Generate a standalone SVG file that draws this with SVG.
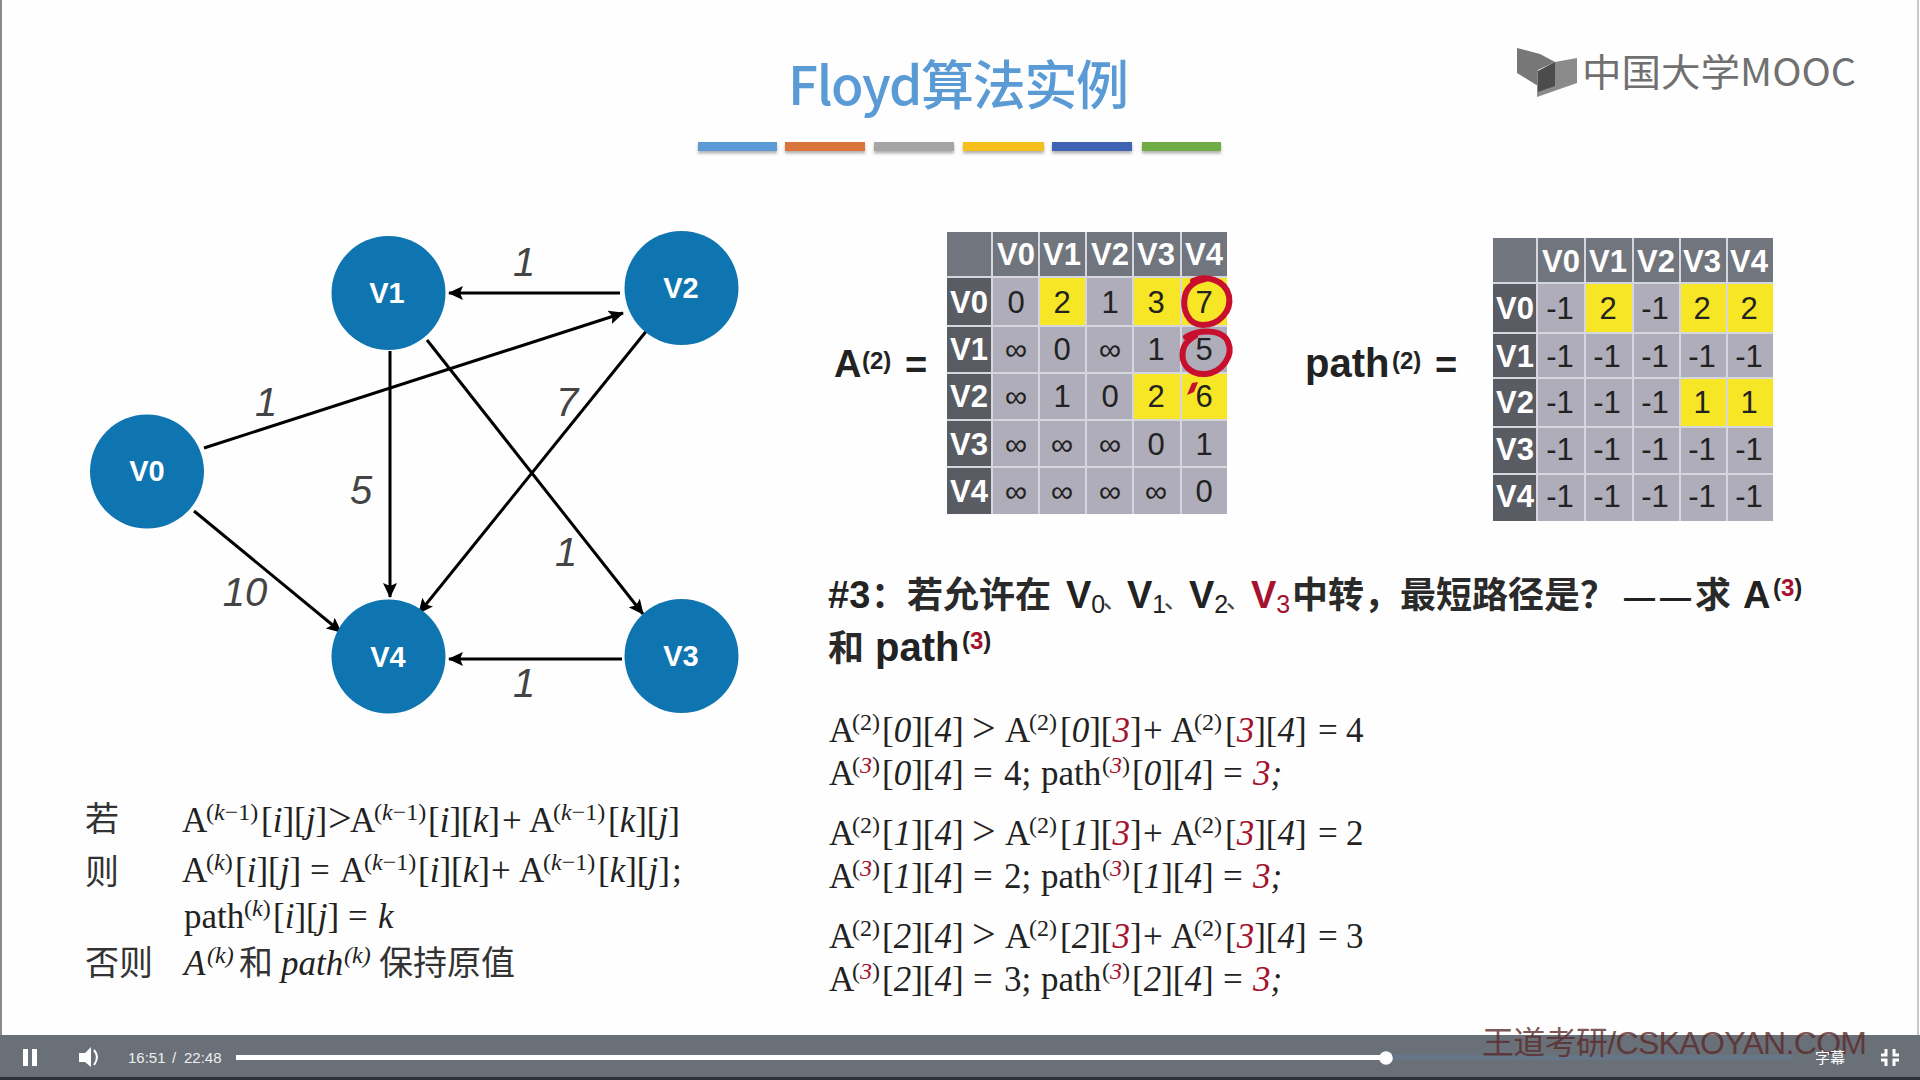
<svg xmlns="http://www.w3.org/2000/svg" width="1920" height="1080" viewBox="0 0 1920 1080">
<style>
.sans{font-family:"Liberation Sans","Noto Sans CJK SC",sans-serif}
.cjk{font-family:"Noto Sans CJK SC",sans-serif}
.nl{font:bold 29px "Liberation Sans",sans-serif;fill:#fff;text-anchor:middle}
.el{font:italic 40px "Liberation Sans",sans-serif;fill:#444;text-anchor:middle}
.edge{stroke:#000;stroke-width:3;fill:none;marker-end:url(#arr)}
.hd{font:bold 31px "Liberation Sans",sans-serif;fill:#fff;text-anchor:middle}
.c{font:31px "Liberation Sans",sans-serif;fill:#222;text-anchor:middle}
.f{font-family:"Liberation Serif",serif;font-size:35px;fill:#222}
.f2{font-family:"Liberation Serif",serif;font-size:35px;fill:#222}
.z{font-family:"Noto Sans CJK SC",sans-serif;font-size:34px;fill:#333;font-weight:400}
.i{font-style:italic}
.r{fill:#a5122e}
.s{font-size:24px}
.gt{font-size:42px}
.b{font:bold 38px "Liberation Sans","Noto Sans CJK SC",sans-serif;fill:#222}
.bz{font-family:"Noto Sans CJK SC",sans-serif;font-size:36px;font-weight:700;fill:#2a2a2a}
.dn{font-family:"Noto Sans CJK SC",sans-serif;font-size:24px;font-weight:400;fill:#444}
.sb{font-size:25px;font-weight:400}
.g{fill:#aeadb9}.y{fill:#f6e626}.h{fill:#71757d}.l{fill:#5a5c63}
.grid{stroke:#d6d6de;stroke-width:2;fill:none}
.red{stroke:#c8102e;stroke-width:6;fill:none;stroke-linecap:round}
</style>
<defs>
<marker id="arr" markerUnits="userSpaceOnUse" markerWidth="16" markerHeight="14" refX="14" refY="7" orient="auto"><path d="M0 0L15 7L0 14L3 7Z" fill="#000"/></marker>
<filter id="sh" x="-5%" y="-40%" width="110%" height="200%"><feDropShadow dx="0" dy="2.5" stdDeviation="1.5" flood-color="#555" flood-opacity="0.45"/></filter>
</defs>
<rect width="1920" height="1080" fill="#fefefe"/>
<rect x="0" y="0" width="2" height="1035" fill="#8a8a8a"/>
<rect x="1917" y="0" width="2" height="1035" fill="#c8c8c8"/>

<g id="title">
<text x="788" y="105" class="cjk" font-size="53" font-weight="500" fill="#5b9bd5" textLength="341" lengthAdjust="spacing">Floyd算法实例</text>
<g filter="url(#sh)">
<rect x="698" y="142" width="79" height="9" fill="#5b9bd5"/>
<rect x="785" y="142" width="80" height="9" fill="#d9743a"/>
<rect x="874" y="142" width="80" height="9" fill="#a5a5a5"/>
<rect x="963" y="142" width="81" height="9" fill="#f5bf1a"/>
<rect x="1052" y="142" width="80" height="9" fill="#3f62b3"/>
<rect x="1142" y="142" width="79" height="9" fill="#70ad47"/>
</g>
</g>
<g id="logo">
<path d="M1517 48L1540 54L1555 62L1538 70L1538 86L1517 73Z" fill="#777"/>
<path d="M1555 62L1577 58L1577 83L1537 97L1537 72Z" fill="#8a8a8a"/>
<path d="M1555 62L1555 86L1538 92L1538 71Z" fill="#4c4c4c"/>
<text x="1582" y="86" font-family="'Noto Sans CJK SC',sans-serif" font-size="37.5" font-weight="400" fill="#707070" textLength="274" lengthAdjust="spacingAndGlyphs">中国大学MOOC</text>
</g>

<g id="connectors">
<line class="edge" x1="620" y1="293" x2="449" y2="293"/>
<line class="edge" x1="204" y1="448" x2="623" y2="313"/>
<line class="edge" x1="194" y1="511" x2="341" y2="632"/>
<line class="edge" x1="390" y1="351" x2="390" y2="597"/>
<line class="edge" x1="427" y1="340" x2="643" y2="614"/>
<line class="edge" x1="648" y1="329" x2="419" y2="613"/>
<line class="edge" x1="622" y1="659" x2="449" y2="659"/>
</g>
<g id="edge-labels">
<text class="el" x="524" y="276">1</text>
<text class="el" x="266" y="416">1</text>
<text class="el" x="361" y="504">5</text>
<text class="el" x="245" y="606">10</text>
<text class="el" x="567" y="416">7</text>
<text class="el" x="566" y="566">1</text>
<text class="el" x="524" y="697">1</text>
</g>
<g id="V0"><circle cx="147" cy="471.5" r="57" fill="#0f75b1"/><text class="nl" x="147" y="481">V0</text></g>
<g id="V1"><circle cx="388.500" cy="293" r="57" fill="#0f75b1"/><text class="nl" x="387" y="303">V1</text></g>
<g id="V2"><circle cx="681.500" cy="288" r="57" fill="#0f75b1"/><text class="nl" x="681" y="298">V2</text></g>
<g id="V3"><circle cx="681.500" cy="656" r="57" fill="#0f75b1"/><text class="nl" x="681" y="666">V3</text></g>
<g id="V4"><circle cx="388.500" cy="656.500" r="57" fill="#0f75b1"/><text class="nl" x="388" y="667">V4</text></g>

<g id="label-A">
<text x="834" y="377" class="sans" font-size="38" font-weight="bold" fill="#222">A</text>
<text x="862" y="369" class="sans" font-size="24" font-weight="bold" fill="#222">(2)</text>
<text x="905" y="378" class="sans" font-size="38" font-weight="bold" fill="#222">=</text>
</g>
<g id="table-A">
<rect class="h" x="947" y="232" width="280" height="45"/>
<rect class="l" x="947" y="277" width="45" height="237"/>
<rect class="g" x="992" y="277" width="235" height="237"/>
<rect class="y" x="1039" y="277" width="47" height="49"/>
<rect class="y" x="1133" y="277" width="94" height="49"/>
<rect class="y" x="1133" y="373" width="94" height="47"/>
<path class="grid" d="M992 232V514M1039 232V514M1086 232V514M1133 232V514M1181 232V514M947 277H1227M947 326H1227M947 373H1227M947 420H1227M947 467H1227"/>
<text class="hd" x="1016" y="265">V0</text><text class="hd" x="1062" y="265">V1</text><text class="hd" x="1110" y="265">V2</text><text class="hd" x="1156" y="265">V3</text><text class="hd" x="1204" y="265">V4</text>
<text class="hd" x="969" y="313">V0</text><text class="hd" x="969" y="360">V1</text><text class="hd" x="969" y="407">V2</text><text class="hd" x="969" y="455">V3</text><text class="hd" x="969" y="502">V4</text>
<text class="c" x="1016" y="313">0</text><text class="c" x="1062" y="313">2</text><text class="c" x="1110" y="313">1</text><text class="c" x="1156" y="313">3</text><text class="c" x="1204" y="313">7</text>
<text class="c" x="1016" y="360">∞</text><text class="c" x="1062" y="360">0</text><text class="c" x="1110" y="360">∞</text><text class="c" x="1156" y="360">1</text><text class="c" x="1204" y="360">5</text>
<text class="c" x="1016" y="407">∞</text><text class="c" x="1062" y="407">1</text><text class="c" x="1110" y="407">0</text><text class="c" x="1156" y="407">2</text><text class="c" x="1204" y="407">6</text>
<text class="c" x="1016" y="455">∞</text><text class="c" x="1062" y="455">∞</text><text class="c" x="1110" y="455">∞</text><text class="c" x="1156" y="455">0</text><text class="c" x="1204" y="455">1</text>
<text class="c" x="1016" y="502">∞</text><text class="c" x="1062" y="502">∞</text><text class="c" x="1110" y="502">∞</text><text class="c" x="1156" y="502">∞</text><text class="c" x="1204" y="502">0</text>
<path class="red" d="M1193 281C1205 275 1225 279 1229 296C1232 312 1218 325 1203 325C1188 325 1182 309 1185 296C1187 287 1195 281 1205 279"/>
<path class="red" d="M1186 337C1198 330 1222 328 1228 342C1234 356 1222 372 1206 374C1190 375 1180 364 1183 350C1184 344 1188 340 1195 336"/>
<path d="M1187 395L1192 383L1198 382L1194 392Z" fill="#c8102e"/>
</g>

<g id="label-path">
<text x="1305" y="377" class="sans" font-size="40" font-weight="bold" fill="#222">path</text>
<text x="1392" y="369" class="sans" font-size="24" font-weight="bold" fill="#222">(2)</text>
<text x="1435" y="378" class="sans" font-size="38" font-weight="bold" fill="#222">=</text>
</g>
<g id="table-path">
<rect class="h" x="1493" y="238" width="280" height="45"/>
<rect class="l" x="1493" y="283" width="44" height="238"/>
<rect class="g" x="1537" y="283" width="236" height="238"/>
<rect class="y" x="1585" y="283" width="48" height="50"/>
<rect class="y" x="1680" y="283" width="93" height="50"/>
<rect class="y" x="1680" y="378" width="93" height="49"/>
<path class="grid" d="M1537 238V521M1585 238V521M1633 238V521M1680 238V521M1727 238V521M1493 283H1773M1493 333H1773M1493 378H1773M1493 427H1773M1493 474H1773"/>
<text class="hd" x="1561" y="272">V0</text><text class="hd" x="1608" y="272">V1</text><text class="hd" x="1656" y="272">V2</text><text class="hd" x="1702" y="272">V3</text><text class="hd" x="1749" y="272">V4</text>
<text class="hd" x="1515" y="319">V0</text><text class="hd" x="1515" y="367">V1</text><text class="hd" x="1515" y="413">V2</text><text class="hd" x="1515" y="460">V3</text><text class="hd" x="1515" y="507">V4</text>
<text class="c" x="1560" y="319">-1</text><text class="c" x="1608" y="319">2</text><text class="c" x="1655" y="319">-1</text><text class="c" x="1702" y="319">2</text><text class="c" x="1749" y="319">2</text>
<text class="c" x="1560" y="367">-1</text><text class="c" x="1607" y="367">-1</text><text class="c" x="1655" y="367">-1</text><text class="c" x="1702" y="367">-1</text><text class="c" x="1749" y="367">-1</text>
<text class="c" x="1560" y="413">-1</text><text class="c" x="1607" y="413">-1</text><text class="c" x="1655" y="413">-1</text><text class="c" x="1702" y="413">1</text><text class="c" x="1749" y="413">1</text>
<text class="c" x="1560" y="460">-1</text><text class="c" x="1607" y="460">-1</text><text class="c" x="1655" y="460">-1</text><text class="c" x="1702" y="460">-1</text><text class="c" x="1749" y="460">-1</text>
<text class="c" x="1560" y="507">-1</text><text class="c" x="1607" y="507">-1</text><text class="c" x="1655" y="507">-1</text><text class="c" x="1702" y="507">-1</text><text class="c" x="1749" y="507">-1</text>
</g>

<g id="question">
<text class="b" y="608"><tspan x="828">#3</tspan><tspan x="871" class="bz">：</tspan><tspan x="907" class="bz">若允许在</tspan><tspan x="1066">V</tspan><tspan dy="5" class="sb">0</tspan><tspan x="1103" dy="-5" class="dn">、</tspan><tspan x="1127">V</tspan><tspan dy="5" class="sb">1</tspan><tspan x="1164" dy="-5" class="dn">、</tspan><tspan x="1189">V</tspan><tspan dy="5" class="sb">2</tspan><tspan x="1226" dy="-5" class="dn">、</tspan><tspan x="1251" class="r">V</tspan><tspan dy="5" class="sb r">3</tspan><tspan x="1292" dy="-5" class="bz">中转，最短路径是？</tspan><tspan x="1624" font-size="31">—</tspan><tspan x="1660" font-size="31">—</tspan><tspan x="1695" class="bz">求</tspan><tspan x="1743">A</tspan><tspan x="1773" dy="-12" font-size="24">(<tspan class="r">3</tspan>)</tspan></text>
<text class="b" y="661"><tspan x="828" class="bz">和</tspan><tspan x="875" font-size="40">path</tspan><tspan x="962" dy="-12" font-size="24">(<tspan class="r">3</tspan>)</tspan></text>
</g>

<g id="calc">
<text class="f" y="742"><tspan x="829">A</tspan><tspan x="852" dy="-12" class="s">(2)</tspan><tspan x="882" dy="12">[<tspan class="i">0</tspan>][<tspan class="i">4</tspan>]</tspan><tspan x="972" class="gt">&gt;</tspan><tspan x="1005">A</tspan><tspan x="1029" dy="-12" class="s">(2)</tspan><tspan x="1060" dy="12">[<tspan class="i">0</tspan>][<tspan class="i r">3</tspan>]</tspan><tspan x="1143">+</tspan><tspan x="1171">A</tspan><tspan x="1194" dy="-12" class="s">(2)</tspan><tspan x="1225" dy="12">[<tspan class="i r">3</tspan>][<tspan class="i">4</tspan>]</tspan><tspan x="1318">=</tspan><tspan x="1346">4</tspan></text>
<text class="f" y="785"><tspan x="829">A</tspan><tspan x="852" dy="-12" class="s">(<tspan class="i r">3</tspan>)</tspan><tspan x="882" dy="12">[<tspan class="i">0</tspan>][<tspan class="i">4</tspan>]</tspan><tspan x="973">=</tspan><tspan x="1004">4;</tspan><tspan x="1041">path</tspan><tspan x="1102" dy="-12" class="s">(<tspan class="i r">3</tspan>)</tspan><tspan x="1132" dy="12">[<tspan class="i">0</tspan>][<tspan class="i">4</tspan>]</tspan><tspan x="1223">=</tspan><tspan x="1253" class="i r">3</tspan><tspan class="i">;</tspan></text>
<text class="f" y="845"><tspan x="829">A</tspan><tspan x="852" dy="-12" class="s">(2)</tspan><tspan x="882" dy="12">[<tspan class="i">1</tspan>][<tspan class="i">4</tspan>]</tspan><tspan x="972" class="gt">&gt;</tspan><tspan x="1005">A</tspan><tspan x="1029" dy="-12" class="s">(2)</tspan><tspan x="1060" dy="12">[<tspan class="i">1</tspan>][<tspan class="i r">3</tspan>]</tspan><tspan x="1143">+</tspan><tspan x="1171">A</tspan><tspan x="1194" dy="-12" class="s">(2)</tspan><tspan x="1225" dy="12">[<tspan class="i r">3</tspan>][<tspan class="i">4</tspan>]</tspan><tspan x="1318">=</tspan><tspan x="1346">2</tspan></text>
<text class="f" y="888"><tspan x="829">A</tspan><tspan x="852" dy="-12" class="s">(<tspan class="i r">3</tspan>)</tspan><tspan x="882" dy="12">[<tspan class="i">1</tspan>][<tspan class="i">4</tspan>]</tspan><tspan x="973">=</tspan><tspan x="1004">2;</tspan><tspan x="1041">path</tspan><tspan x="1102" dy="-12" class="s">(<tspan class="i r">3</tspan>)</tspan><tspan x="1132" dy="12">[<tspan class="i">1</tspan>][<tspan class="i">4</tspan>]</tspan><tspan x="1223">=</tspan><tspan x="1253" class="i r">3</tspan><tspan class="i">;</tspan></text>
<text class="f" y="948"><tspan x="829">A</tspan><tspan x="852" dy="-12" class="s">(2)</tspan><tspan x="882" dy="12">[<tspan class="i">2</tspan>][<tspan class="i">4</tspan>]</tspan><tspan x="972" class="gt">&gt;</tspan><tspan x="1005">A</tspan><tspan x="1029" dy="-12" class="s">(2)</tspan><tspan x="1060" dy="12">[<tspan class="i">2</tspan>][<tspan class="i r">3</tspan>]</tspan><tspan x="1143">+</tspan><tspan x="1171">A</tspan><tspan x="1194" dy="-12" class="s">(2)</tspan><tspan x="1225" dy="12">[<tspan class="i r">3</tspan>][<tspan class="i">4</tspan>]</tspan><tspan x="1318">=</tspan><tspan x="1346">3</tspan></text>
<text class="f" y="991"><tspan x="829">A</tspan><tspan x="852" dy="-12" class="s">(<tspan class="i r">3</tspan>)</tspan><tspan x="882" dy="12">[<tspan class="i">2</tspan>][<tspan class="i">4</tspan>]</tspan><tspan x="973">=</tspan><tspan x="1004">3;</tspan><tspan x="1041">path</tspan><tspan x="1102" dy="-12" class="s">(<tspan class="i r">3</tspan>)</tspan><tspan x="1132" dy="12">[<tspan class="i">2</tspan>][<tspan class="i">4</tspan>]</tspan><tspan x="1223">=</tspan><tspan x="1253" class="i r">3</tspan><tspan class="i">;</tspan></text>
</g>

<g id="rule">
<text class="z" x="85" y="831">若</text>
<text class="z" x="85" y="884">则</text>
<text class="z" x="85" y="975">否则</text>
<text class="f2" y="832"><tspan x="182">A</tspan><tspan x="206" dy="-12" class="s">(<tspan class="i">k</tspan>−1)</tspan><tspan x="261" dy="12">[<tspan class="i">i</tspan>][<tspan class="i">j</tspan>]</tspan><tspan x="328" class="gt" font-size="40">&gt;</tspan><tspan x="350">A</tspan><tspan x="374" dy="-12" class="s">(<tspan class="i">k</tspan>−1)</tspan><tspan x="428" dy="12">[<tspan class="i">i</tspan>][<tspan class="i">k</tspan>]</tspan><tspan x="502">+</tspan><tspan x="529">A</tspan><tspan x="553" dy="-12" class="s">(<tspan class="i">k</tspan>−1)</tspan><tspan x="608" dy="12">[<tspan class="i">k</tspan>][<tspan class="i">j</tspan>]</tspan></text>
<text class="f2" y="882"><tspan x="182">A</tspan><tspan x="206" dy="-12" class="s">(<tspan class="i">k</tspan>)</tspan><tspan x="235" dy="12">[<tspan class="i">i</tspan>][<tspan class="i">j</tspan>]</tspan><tspan x="310">=</tspan><tspan x="340">A</tspan><tspan x="364" dy="-12" class="s">(<tspan class="i">k</tspan>−1)</tspan><tspan x="418" dy="12">[<tspan class="i">i</tspan>][<tspan class="i">k</tspan>]</tspan><tspan x="491">+</tspan><tspan x="519">A</tspan><tspan x="543" dy="-12" class="s">(<tspan class="i">k</tspan>−1)</tspan><tspan x="598" dy="12">[<tspan class="i">k</tspan>][<tspan class="i">j</tspan>]</tspan><tspan x="672">;</tspan></text>
<text class="f2" y="928"><tspan x="184">path</tspan><tspan x="244" dy="-12" class="s">(<tspan class="i">k</tspan>)</tspan><tspan x="273" dy="12">[<tspan class="i">i</tspan>][<tspan class="i">j</tspan>]</tspan><tspan x="348">=</tspan><tspan x="378" class="i">k</tspan></text>
<text class="f2" y="975"><tspan x="184" class="i">A</tspan><tspan x="207" dy="-12" class="s i">(k)</tspan><tspan x="239" dy="12" class="z">和</tspan><tspan x="281" class="i">path</tspan><tspan x="344" dy="-12" class="s i">(k)</tspan><tspan x="379" dy="12" class="z" font-size="35">保持原值</tspan></text>
</g>

<g id="player">
<rect x="0" y="1035" width="1920" height="42" fill="#6a7078"/>
<rect x="0" y="1077" width="1920" height="3" fill="#2d3238"/>
<rect x="236" y="1055" width="1150" height="5" fill="#fff"/>
<rect x="1386" y="1055" width="407" height="5" fill="#667689"/>
<circle cx="1386" cy="1058" r="6.8" fill="#fff"/>
<rect x="23" y="1049" width="5" height="17" fill="#fff"/>
<rect x="32" y="1049" width="5" height="17" fill="#fff"/>
<path d="M79 1053H85L91 1047V1067L85 1062H79Z" fill="#fff"/>
<path d="M94 1050Q100 1057 94 1065" fill="none" stroke="#fff" stroke-width="2"/>
<text x="128" y="1063" class="sans" font-size="15" fill="#eee">16:51</text>
<text x="172" y="1063" class="sans" font-size="15" fill="#eee">/</text>
<text x="184" y="1063" class="sans" font-size="15" fill="#eee">22:48</text>
</g>
<text id="watermark" x="1482" y="1054" class="sans" font-size="32" textLength="385" lengthAdjust="spacing" fill="#5a2a2a" fill-opacity="0.8">王道考研/CSKAOYAN.COM</text>
<g id="player-right">
<text x="1815" y="1063" class="cjk" font-size="15" fill="#fff">字幕</text>
<path d="M1886 1049V1055H1881M1894 1049V1055H1899M1886 1066V1060H1881M1894 1066V1060H1899" fill="none" stroke="#fff" stroke-width="3"/>
</g>
</svg>
